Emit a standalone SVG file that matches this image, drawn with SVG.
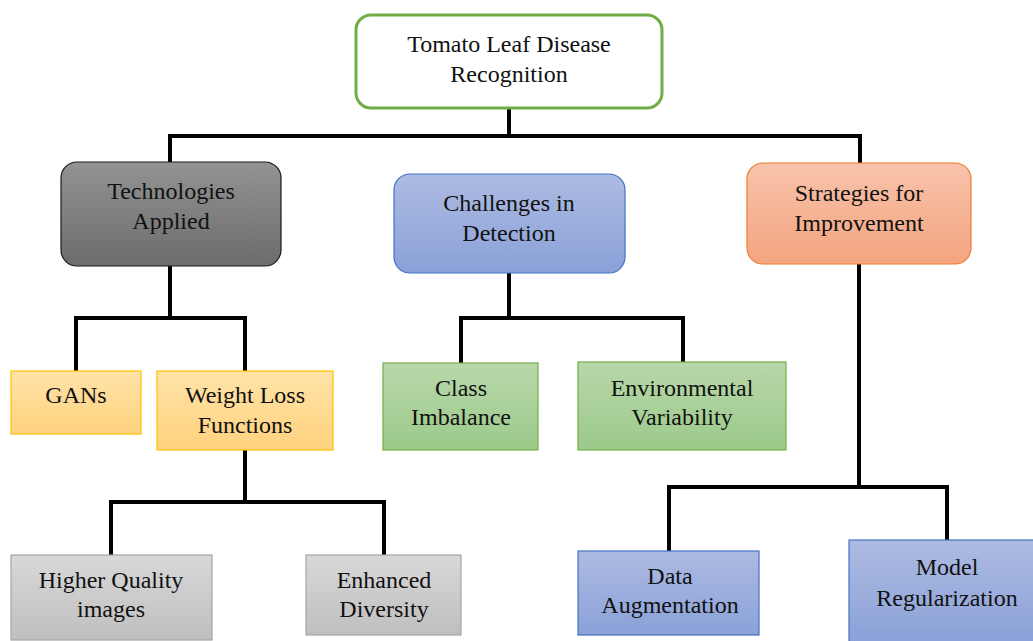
<svg xmlns="http://www.w3.org/2000/svg" width="1033" height="641" viewBox="0 0 1033 641">
<defs>
<linearGradient id="gDark" x1="0" y1="0" x2="0" y2="1"><stop offset="0" stop-color="#939393"/><stop offset="1" stop-color="#6c6c6c"/></linearGradient>
<linearGradient id="gBlue" x1="0" y1="0" x2="0" y2="1"><stop offset="0" stop-color="#adbbe2"/><stop offset="1" stop-color="#8aa1d8"/></linearGradient>
<linearGradient id="gOrange" x1="0" y1="0" x2="0" y2="1"><stop offset="0" stop-color="#f7c3ab"/><stop offset="1" stop-color="#f4a47f"/></linearGradient>
<linearGradient id="gYellow" x1="0" y1="0" x2="0" y2="1"><stop offset="0" stop-color="#ffe3a8"/><stop offset="1" stop-color="#ffd27e"/></linearGradient>
<linearGradient id="gGreen" x1="0" y1="0" x2="0" y2="1"><stop offset="0" stop-color="#b8d8aa"/><stop offset="1" stop-color="#9cc98a"/></linearGradient>
<linearGradient id="gGray" x1="0" y1="0" x2="0" y2="1"><stop offset="0" stop-color="#d8d8d8"/><stop offset="1" stop-color="#bfbfbf"/></linearGradient>
</defs>
<style>
text{font-family:"Liberation Serif","Times New Roman",serif;font-size:24px;fill:#111;text-anchor:middle}
.conn{stroke:#000;stroke-width:4;fill:none;stroke-linecap:square}
.root{fill:#fff;stroke:#70AD47;stroke-width:3}
.dark{fill:url(#gDark);stroke:#1a1a1a;stroke-width:1.2}
.blue{fill:url(#gBlue);stroke:#4472C4;stroke-width:1.2}
.orange{fill:url(#gOrange);stroke:#ED7D31;stroke-width:1.2}
.yellow{fill:url(#gYellow);stroke:#FFC000;stroke-width:1.2}
.green{fill:url(#gGreen);stroke:#70AD47;stroke-width:1.2}
.gray{fill:url(#gGray);stroke:#a5a5a5;stroke-width:1.2}
</style>
<rect width="1033" height="641" fill="#fff"/>
<g id="connectors">
<path class="conn" d="M509 108 V136 M170 162 V136 H860 V163"/>
<path class="conn" d="M170 266 V318 M76 371 V318 H245 V371"/>
<path class="conn" d="M245 450 V502 M111 555 V502 H384 V555"/>
<path class="conn" d="M509 273 V318 M461 363 V318 H683 V362"/>
<path class="conn" d="M859 264 V487 M669 551 V487 H947 V540"/>
</g>
<g id="root"><rect class="root" x="356" y="15" width="306" height="93" rx="15"/><text x="509" y="52">Tomato Leaf Disease</text><text x="509" y="82">Recognition</text></g>
<g id="technologies"><rect class="dark" x="61" y="162" width="220" height="104" rx="16"/><text x="171" y="199">Technologies</text><text x="171" y="229">Applied</text></g>
<g id="challenges"><rect class="blue" x="394" y="174" width="231" height="99" rx="16"/><text x="509" y="211">Challenges in</text><text x="509" y="241">Detection</text></g>
<g id="strategies"><rect class="orange" x="747" y="163" width="224" height="101" rx="16"/><text x="859" y="201">Strategies for</text><text x="859" y="231">Improvement</text></g>
<g id="gans"><rect class="yellow" x="11" y="371" width="130" height="63"/><text x="76" y="403">GANs</text></g>
<g id="weightloss"><rect class="yellow" x="157" y="371" width="176" height="79"/><text x="245" y="403">Weight Loss</text><text x="245" y="433">Functions</text></g>
<g id="classimbalance"><rect class="green" x="383" y="363" width="155" height="87"/><text x="461" y="396">Class</text><text x="461" y="425">Imbalance</text></g>
<g id="environmental"><rect class="green" x="578" y="362" width="208" height="88"/><text x="682" y="396">Environmental</text><text x="682" y="425">Variability</text></g>
<g id="higherquality"><rect class="gray" x="11" y="555" width="201" height="85"/><text x="111" y="588">Higher Quality</text><text x="111" y="617">images</text></g>
<g id="enhanced"><rect class="gray" x="306" y="555" width="155" height="80"/><text x="384" y="588">Enhanced</text><text x="384" y="617">Diversity</text></g>
<g id="dataaug"><rect class="blue" x="578" y="551" width="181" height="84"/><text x="670" y="584">Data</text><text x="670" y="613">Augmentation</text></g>
<g id="modelreg"><rect class="blue" x="849" y="540" width="190" height="105"/><text x="947" y="575">Model</text><text x="947" y="606">Regularization</text></g>
</svg>
